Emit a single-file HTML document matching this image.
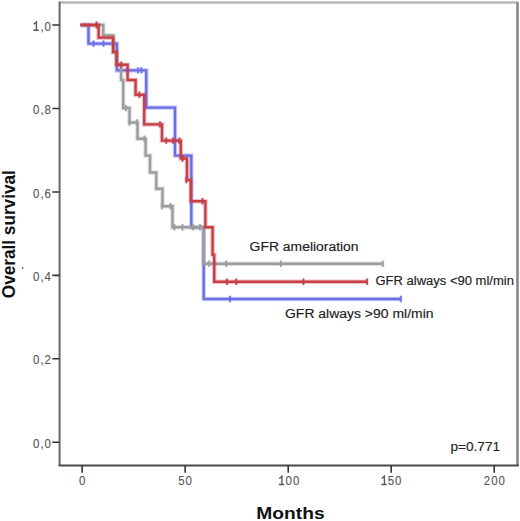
<!DOCTYPE html>
<html><head><meta charset="utf-8"><style>
html,body{margin:0;padding:0;background:#fff;width:520px;height:521px;overflow:hidden}
svg{position:absolute;left:0;top:0}
.tk{font-family:"Liberation Sans",sans-serif;font-size:13px;fill:#555;stroke:#555;stroke-width:0.12px}
.tk text{letter-spacing:1.1px}
.lb{font-family:"Liberation Sans",sans-serif;font-size:12.3px;fill:#222;stroke:#222;stroke-width:0.15px}
.ax{font-family:"Liberation Sans",sans-serif;font-weight:bold;font-size:17px;fill:#111}
.hl{stroke-width:4.6px;stroke-opacity:.3}
.hc{stroke-width:3px;stroke-opacity:.28}
.ln{stroke-width:2.4px}
.cn{stroke-width:1.5px}
svg{--b:#6a6ee4;--g:#9d9d9d;--r:#c63e46}
</style></head><body>
<svg width="520" height="521" viewBox="0 0 520 521">
<!-- frame -->
<path d="M59.6 2.5 H518.6" fill="none" stroke="#b8b8b8" stroke-width="2.6"/>
<path d="M517.5 2.5 V465.4" fill="none" stroke="#868686" stroke-width="2.6"/>
<path d="M59.6 1.4 V465.4" fill="none" stroke="#6e6e6e" stroke-width="2.1"/>
<path d="M58.6 465.4 H518.8" fill="none" stroke="#4a4a4a" stroke-width="2"/>
<!-- y ticks -->
<g stroke="#333" stroke-width="1.6">
<path d="M52.3 25 H59.6 M52.3 108.5 H59.6 M52.3 192 H59.6 M52.3 275.4 H59.6 M52.3 358.8 H59.6 M52.3 442.3 H59.6"/>
<path d="M82.15 465.4 V472.8 M185.15 465.4 V472.8 M288.2 465.4 V472.8 M391.2 465.4 V472.8 M494.2 465.4 V472.8"/>
</g>
<g class="tk" text-anchor="end">
<text transform="translate(51.9,30.7) scale(0.88,1)">,0</text>
<text transform="translate(51.9,114.1) scale(0.88,1)">0,8</text>
<text transform="translate(51.9,197.6) scale(0.88,1)">0,6</text>
<text transform="translate(51.9,281.0) scale(0.88,1)">0,4</text>
<text transform="translate(51.9,364.4) scale(0.88,1)">0,2</text>
<text transform="translate(51.9,447.9) scale(0.88,1)">0,0</text>
</g>
<g class="tk" text-anchor="middle">
<text transform="translate(82.6,485.0) scale(0.88,1)">0</text>
<text transform="translate(185.6,485.0) scale(0.88,1)">50</text>
<text transform="translate(292.9,485.0) scale(0.88,1)">00</text>
<text transform="translate(395,485.0) scale(0.88,1)">50</text>
<text transform="translate(494.8,485.0) scale(0.88,1)">200</text>
</g>
<path d="M33.80 24.20 L36.40 22.00 V30.20 M33.40 30.20 H38.70 M279.30 478.50 L281.90 476.30 V484.50 M278.90 484.50 H284.20 M381.80 478.50 L384.40 476.30 V484.50 M381.40 484.50 H386.70" fill="none" stroke="#555" stroke-width="1.35"/>
<!-- curves -->
<g fill="none" stroke-linejoin="miter" stroke-linecap="butt">
<g stroke="var(--b)">
<path class="hl" d="M80.5 25 H88.5 V43.6 H116.9 V70.4 H146.25 V107.6 H175 V155.6 H191.3 V227.3 H203.7 V299 H400.9"/><path class="hc" d="M93.5 40.40 V46.80 M103.5 40.40 V46.80 M138 67.20 V73.60 M141.4 67.20 V73.60 M230 295.80 V302.20 M400.9 295.80 V302.20"/>
<path class="ln" d="M80.5 25 H88.5 V43.6 H116.9 V70.4 H146.25 V107.6 H175 V155.6 H191.3 V227.3 H203.7 V299 H400.9"/><path class="cn" d="M93.5 40.40 V46.80 M103.5 40.40 V46.80 M138 67.20 V73.60 M141.4 67.20 V73.60 M230 295.80 V302.20 M400.9 295.80 V302.20"/>
</g>
<g stroke="var(--g)">
<path class="hl" d="M80.5 25 H103.3 V35.4 H113.2 V52 H116.6 V64.8 H121.1 V80 H123.2 V108 H129.5 V122.5 H137.5 V138.75 H145.6 V155.6 H150 V172.5 H156.25 V188.75 H162.5 V206.25 H172.5 V227.3 H203.7 V263.7 H383"/><path class="hc" d="M125.8 104.80 V111.20 M129.5 119.30 V125.70 M137 119.30 V125.70 M144.4 135.55 V141.95 M161.9 203.05 V209.45 M170.6 203.05 V209.45 M174.4 224.10 V230.50 M182.5 224.10 V230.50 M193.1 224.10 V230.50 M200 224.10 V230.50 M209.2 260.50 V266.90 M226.25 260.50 V266.90 M280.8 260.50 V266.90 M383 260.50 V266.90"/>
<path class="ln" d="M80.5 25 H103.3 V35.4 H113.2 V52 H116.6 V64.8 H121.1 V80 H123.2 V108 H129.5 V122.5 H137.5 V138.75 H145.6 V155.6 H150 V172.5 H156.25 V188.75 H162.5 V206.25 H172.5 V227.3 H203.7 V263.7 H383"/><path class="cn" d="M125.8 104.80 V111.20 M129.5 119.30 V125.70 M137 119.30 V125.70 M144.4 135.55 V141.95 M161.9 203.05 V209.45 M170.6 203.05 V209.45 M174.4 224.10 V230.50 M182.5 224.10 V230.50 M193.1 224.10 V230.50 M200 224.10 V230.50 M209.2 260.50 V266.90 M226.25 260.50 V266.90 M280.8 260.50 V266.90 M383 260.50 V266.90"/>
</g>
<g stroke="var(--r)">
<path class="hl" d="M80.5 25 H98.6 V37.6 H113.2 V52 H116.6 V64.8 H127.6 V80 H135.6 V94.8 H144.2 V124.4 H162 V140.6 H180.8 V158.5 H187 V180 H190.8 V201.3 H205.4 V227.3 H212.6 V254.8 H214.2 V281.7 H367.2"/><path class="hc" d="M96.5 21.5 V28.5 M121.25 61.60 V68.00 M139.4 91.60 V98.00 M160 121.20 V127.60 M166.25 137.40 V143.80 M173 137.40 V143.80 M179.4 137.40 V143.80 M182.5 155.30 V161.70 M186.25 176.80 V183.20 M202.5 198.10 V204.50 M226.9 278.50 V284.90 M236.25 278.50 V284.90 M303.5 278.50 V284.90 M367.2 278.50 V284.90"/>
<path class="ln" d="M80.5 25 H98.6 V37.6 H113.2 V52 H116.6 V64.8 H127.6 V80 H135.6 V94.8 H144.2 V124.4 H162 V140.6 H180.8 V158.5 H187 V180 H190.8 V201.3 H205.4 V227.3 H212.6 V254.8 H214.2 V281.7 H367.2"/><path class="cn" d="M96.5 21.5 V28.5 M121.25 61.60 V68.00 M139.4 91.60 V98.00 M160 121.20 V127.60 M166.25 137.40 V143.80 M173 137.40 V143.80 M179.4 137.40 V143.80 M182.5 155.30 V161.70 M186.25 176.80 V183.20 M202.5 198.10 V204.50 M226.9 278.50 V284.90 M236.25 278.50 V284.90 M303.5 278.50 V284.90 M367.2 278.50 V284.90"/>
</g>
</g>
<!-- labels -->
<text class="lb" x="249.6" y="250.8" textLength="109" lengthAdjust="spacingAndGlyphs">GFR amelioration</text>
<text class="lb" x="375.5" y="284.7" style="font-size:12px" textLength="138.4" lengthAdjust="spacingAndGlyphs">GFR always &lt;90 ml/min</text>
<text class="lb" x="285" y="317.5" textLength="148.5" lengthAdjust="spacingAndGlyphs">GFR always &gt;90 ml/min</text>
<text class="lb" x="450.5" y="450.9" textLength="49.5" lengthAdjust="spacingAndGlyphs">p=0.771</text>
<text class="ax" x="256.3" y="518.5" textLength="68.3" lengthAdjust="spacingAndGlyphs">Months</text>
<text class="ax" transform="translate(14.6,298.2) scale(1.1,1) rotate(-90)" x="0" y="0" textLength="128" lengthAdjust="spacingAndGlyphs">Overall survival</text>
<circle cx="22.6" cy="268" r="0.9" fill="#666"/>
</svg>
</body></html>
